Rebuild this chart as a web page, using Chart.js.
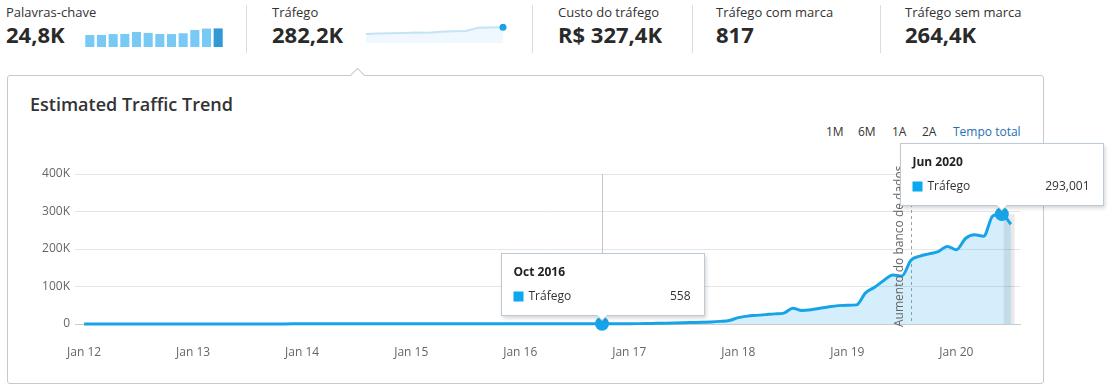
<!DOCTYPE html>
<html>
<head>
<meta charset="utf-8">
<script src="https://cdn.jsdelivr.net/npm/chart.js@4.4.1/dist/chart.umd.min.js"></script>
<style>
  body { margin: 0; width: 1109px; height: 388px; position: relative; background: #fff;
         font-family: "Open Sans", sans-serif; color: #333; overflow: hidden; }
  .lbl { position: absolute; top: 6px; font-size: 13px; line-height: 1; white-space: nowrap; color: #333; }
  .val { position: absolute; top: 23px; font-size: 22px; line-height: 1; font-weight: 700; white-space: nowrap; color: #2a2a2a; }
  .sep { position: absolute; top: 5px; width: 1px; height: 48px; background: #dcdcdc; }
  .panel { position: absolute; left: 7px; top: 75px; width: 1035px; height: 307px;
           border: 1px solid #c9c9c9; border-radius: 3px; }
  .notch { position: absolute; left: 352px; top: 70px; width: 10px; height: 10px; background: #fff;
           border-left: 1px solid #c9c9c9; border-top: 1px solid #c9c9c9; transform: rotate(45deg); }
  .title { position: absolute; left: 30px; top: 95px; font-size: 18px; line-height: 1; font-weight: 600; color: #333; }
  .range { position: absolute; top: 126px; font-size: 12px; line-height: 1; color: #333; white-space: nowrap; }
  canvas { position: absolute; }
</style>
</head>
<body>
<div class="lbl" style="left:6px">Palavras-chave</div>
<div class="val" style="left:6px">24,8K</div>
<canvas id="kwBars" width="140" height="27" style="left:84px;top:20px"></canvas>
<div class="sep" style="left:246px"></div>
<div class="lbl" style="left:272px">Tráfego</div>
<div class="val" style="left:272px">282,2K</div>
<canvas id="spark" width="146" height="27" style="left:362px;top:20px"></canvas>
<div class="sep" style="left:532px"></div>
<div class="lbl" style="left:558px">Custo do tráfego</div>
<div class="val" style="left:558px">R$ 327,4K</div>
<div class="sep" style="left:692px"></div>
<div class="lbl" style="left:716px">Tráfego com marca</div>
<div class="val" style="left:716px">817</div>
<div class="sep" style="left:880px"></div>
<div class="lbl" style="left:905px">Tráfego sem marca</div>
<div class="val" style="left:905px">264,4K</div>

<div class="panel"></div>
<div class="notch"></div>
<div class="title">Estimated Traffic Trend</div>
<div class="range" style="left:826px">1M</div>
<div class="range" style="left:858px">6M</div>
<div class="range" style="left:892px">1A</div>
<div class="range" style="left:922px">2A</div>
<div class="range" style="left:953px;color:#1f6fb5">Tempo total</div>

<canvas id="trend" width="1109" height="230" style="left:0;top:140px"></canvas>

<script>
// keywords, last 12 months (thousands)
const keywordBars = [16.0, 16.1, 17.2, 17.4, 20.0, 18.8, 17.3, 17.2, 18.3, 22.6, 24.6, 24.8];
// traffic sparkline, last 12 months (thousands)
const sparkTraffic = [163, 168, 174, 181, 190, 184, 200, 211, 215, 273, 278, 282.2];

// monthly traffic, Jan 2012 .. Jul 2020
const traffic = [
  150, 160, 170, 160, 180, 190, 200, 190, 210, 220, 230, 240,
  250, 260, 250, 270, 280, 290, 300, 290, 310, 320, 330, 340,
  350, 360, 350, 370, 380, 390, 400, 410, 400, 420, 430, 440,
  450, 460, 470, 460, 480, 490, 500, 510, 500, 520, 530, 540,
  600, 650, 700, 620, 580, 560, 540, 550, 560, 558, 600, 680,
  800, 1000, 1300, 1700, 2100, 2600, 3200, 3900, 4600, 5400, 7000, 9500,
  17000, 21000, 23000, 25000, 27000, 29000, 42000, 36000, 38000, 42000, 46000, 49000,
  50000, 51000, 83000, 98000, 116000, 131000, 128000, 170000, 181000, 187000, 193000, 207000,
  198000, 228000, 238000, 234000, 288000, 293001, 266000
];
const xTickMonths = [0, 12, 24, 36, 48, 60, 72, 84, 96];
const xTickLabels = ['Jan 12', 'Jan 13', 'Jan 14', 'Jan 15', 'Jan 16', 'Jan 17', 'Jan 18', 'Jan 19', 'Jan 20'];
const yTicks = [0, 100000, 200000, 300000, 400000];
const highlightIndex = [57, 101];
const highlightMonths = ['Oct 2016', 'Jun 2020'];
const seriesName = 'Tráfego';
const dbUpdateIndex = 91;
const dbUpdateText = 'Aumento do banco de dados';

const BLUE = '#17a3e8';

new Chart(document.getElementById('kwBars'), {
  type: 'bar',
  data: {
    labels: keywordBars.map((_, i) => i),
    datasets: [{
      data: keywordBars,
      backgroundColor: keywordBars.map((_, i) => i === keywordBars.length - 1 ? '#3399d5' : '#79c9f5'),
      barPercentage: 1,
      categoryPercentage: 0.78
    }]
  },
  options: {
    responsive: false, animation: false, events: [],
    plugins: { legend: { display: false }, tooltip: { enabled: false } },
    scales: { x: { display: false }, y: { display: false, min: 0, max: 36 } }
  }
});

new Chart(document.getElementById('spark'), {
  type: 'line',
  data: {
    labels: sparkTraffic.map((_, i) => i),
    datasets: [{
      data: sparkTraffic,
      borderColor: '#c4e4f6',
      borderWidth: 2,
      fill: 'origin',
      backgroundColor: '#eff8fe',
      pointRadius: ctx => ctx.dataIndex === sparkTraffic.length - 1 ? 3.5 : 0,
      pointBackgroundColor: BLUE,
      pointBorderWidth: 0,
      tension: 0
    }]
  },
  options: {
    responsive: false, animation: false, events: [],
    layout: { padding: { top: 4, left: 3, right: 5, bottom: 0 } },
    plugins: { legend: { display: false }, tooltip: { enabled: false } },
    scales: { x: { display: false }, y: { display: false, min: 0, max: 340 } }
  }
});

function drawTip(ctx, px, py, title, value) {
  const w = 203, h = 62;
  const left = Math.round(px - w / 2) + 0.5;
  const top = Math.round(py - 9 - h) + 0.5;
  ctx.save();
  ctx.shadowColor = 'rgba(0,0,0,0.18)';
  ctx.shadowBlur = 4;
  ctx.shadowOffsetX = 1;
  ctx.shadowOffsetY = 2;
  ctx.fillStyle = '#fff';
  ctx.fillRect(left, top, w, h);
  ctx.shadowColor = 'transparent';
  ctx.strokeStyle = '#bccad8';
  ctx.lineWidth = 1;
  ctx.strokeRect(left, top, w, h);
  // caret
  ctx.beginPath();
  ctx.moveTo(px - 5, top + h - 0.5);
  ctx.lineTo(px, top + h + 5);
  ctx.lineTo(px + 5, top + h - 0.5);
  ctx.closePath();
  ctx.fillStyle = '#fff';
  ctx.fill();
  ctx.beginPath();
  ctx.moveTo(px - 5, top + h);
  ctx.lineTo(px, top + h + 5);
  ctx.lineTo(px + 5, top + h);
  ctx.strokeStyle = '#c4cfd9';
  ctx.stroke();

  ctx.textBaseline = 'middle';
  ctx.fillStyle = '#222';
  ctx.font = "bold 12px 'Open Sans'";
  ctx.fillText(title, left + 12, top + 19);
  ctx.fillStyle = '#0aa8f0';
  ctx.fillRect(left + 12, top + 38, 10, 10);
  ctx.fillStyle = '#333';
  ctx.font = "12px 'Open Sans'";
  ctx.fillText(seriesName, left + 27, top + 43);
  ctx.textAlign = 'right';
  ctx.fillText(value, left + w - 14, top + 43);
  ctx.restore();
}

const trendExtras = {
  id: 'trendExtras',
  beforeDatasetsDraw(chart) {
    const { ctx, chartArea: a, scales: { x, y } } = chart;
    ctx.save();
    // last (incomplete) month shading
    const peakY = y.getPixelForValue(Math.max(...traffic));
    const b0 = x.getPixelForValue(101.2), b1 = x.getPixelForValue(102.4);
    ctx.fillStyle = 'rgba(0,0,0,0.085)';
    ctx.fillRect(b0, peakY, b1 - b0, a.bottom - peakY);
    // hover cursor lines
    ctx.strokeStyle = '#c6c6c6';
    ctx.lineWidth = 1;
    highlightIndex.forEach(i => {
      const px = Math.round(x.getPixelForValue(i)) + 0.5;
      ctx.beginPath();
      ctx.moveTo(px, a.top);
      ctx.lineTo(px, y.getPixelForValue(traffic[i]));
      ctx.stroke();
    });
    // database update marker
    const dx = Math.round(x.getPixelForValue(dbUpdateIndex)) + 0.5;
    ctx.setLineDash([3, 3]);
    ctx.strokeStyle = '#a0a0a0';
    ctx.beginPath();
    ctx.moveTo(dx, a.top);
    ctx.lineTo(dx, a.bottom);
    ctx.stroke();
    ctx.restore();
  },
  afterDatasetsDraw(chart) {
    const { ctx, chartArea: a, scales: { x } } = chart;
    const dx = Math.round(x.getPixelForValue(dbUpdateIndex));
    ctx.save();
    ctx.translate(dx - 5, a.bottom + 3);
    ctx.rotate(-Math.PI / 2);
    ctx.font = "12px 'Open Sans'";
    ctx.fillStyle = '#666';
    ctx.textAlign = 'left';
    ctx.textBaseline = 'bottom';
    ctx.fillText(dbUpdateText, 0, 0);
    ctx.restore();
  },
  afterDraw(chart) {
    const { ctx, scales: { x, y } } = chart;
    highlightIndex.forEach((i, k) => {
      drawTip(ctx, x.getPixelForValue(i), y.getPixelForValue(traffic[i]),
        highlightMonths[k], traffic[i].toLocaleString('en-US'));
    });
  }
};

new Chart(document.getElementById('trend'), {
  type: 'line',
  data: {
    datasets: [{
      label: seriesName,
      data: traffic.map((v, i) => ({ x: i, y: v })),
      borderColor: BLUE,
      borderWidth: 3,
      fill: 'origin',
      backgroundColor: 'rgba(23,163,232,0.18)',
      pointRadius: ctx => highlightIndex.includes(ctx.dataIndex) ? 7 : 0,
      pointBackgroundColor: BLUE,
      pointBorderWidth: 0,
      cubicInterpolationMode: 'monotone',
      clip: false
    }]
  },
  options: {
    responsive: false,
    animation: false,
    events: [],
    layout: { padding: { top: 34, right: 89, bottom: 0, left: 0 } },
    plugins: { legend: { display: false }, tooltip: { enabled: false } },
    scales: {
      x: {
        type: 'linear',
        min: -1,
        max: 103,
        afterBuildTicks: s => { s.ticks = xTickMonths.map(v => ({ value: v })); },
        afterFit: s => { s.height = 46; },
        grid: { display: false },
        border: { color: '#cccccc' },
        ticks: {
          autoSkip: false, maxRotation: 0, padding: 13,
          color: '#666', font: { family: "'Open Sans'", size: 12 },
          callback: v => xTickLabels[xTickMonths.indexOf(v)]
        }
      },
      y: {
        min: 0,
        max: 400000,
        afterBuildTicks: s => { s.ticks = yTicks.map(v => ({ value: v })); },
        afterFit: s => { s.width = 75; },
        grid: { color: '#e5e5e5', drawTicks: false },
        border: { display: false },
        ticks: {
          padding: 5,
          color: '#666', font: { family: "'Open Sans'", size: 12 },
          callback: v => v === 0 ? '0' : (v / 1000) + 'K'
        }
      }
    }
  },
  plugins: [trendExtras]
});
</script>
</body>
</html>
